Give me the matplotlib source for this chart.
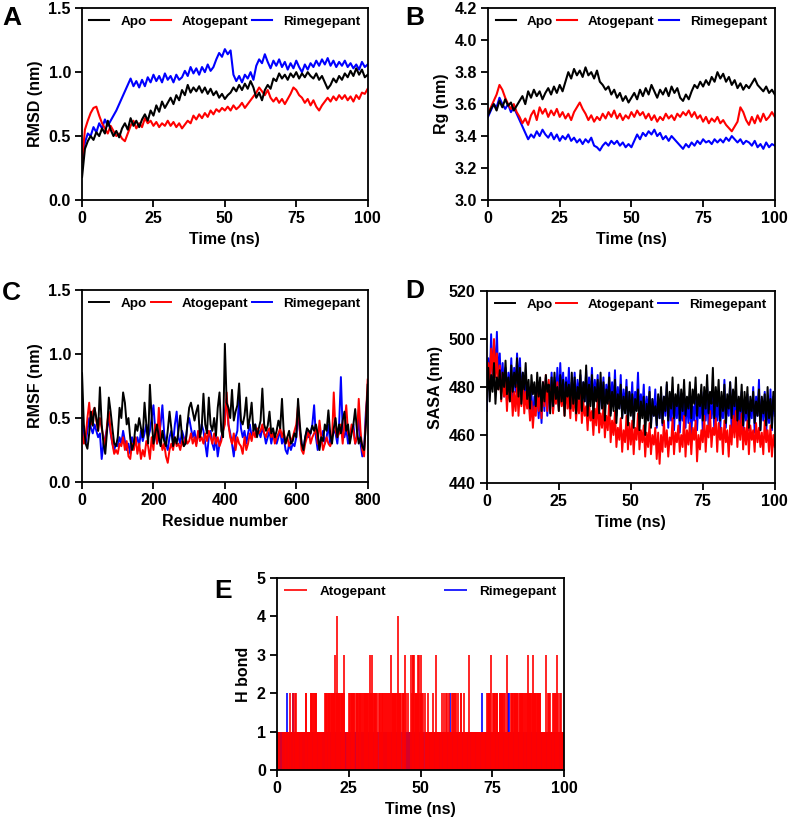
import numpy as np
import matplotlib
matplotlib.use("Agg")
import matplotlib.pyplot as plt

plt.rcParams['font.family'] = ['Liberation Sans', 'DejaVu Sans']
plt.rcParams['font.weight'] = 'bold'
plt.rcParams['axes.labelweight'] = 'bold'

# ---------------------------------------------------------------
# data

names = ["Apo", "Atogepant", "Rimegepant"]
colors = ["black", "red", "blue"]

# A - RMSD (nm), one value per ns
t_rmsd = np.arange(0, 101, 1)
rmsd_apo = [0.18, 0.40, 0.46, 0.50, 0.47, 0.53, 0.50, 0.56, 0.52, 0.62, 0.55,
            0.50, 0.54, 0.49, 0.56, 0.60, 0.55, 0.64, 0.58, 0.62, 0.57,
            0.63, 0.67, 0.62, 0.70, 0.66, 0.74, 0.69, 0.77, 0.72, 0.76,
            0.80, 0.75, 0.82, 0.78, 0.86, 0.82, 0.90, 0.84, 0.88, 0.85,
            0.89, 0.84, 0.88, 0.83, 0.87, 0.82, 0.85, 0.80, 0.83, 0.79,
            0.82, 0.84, 0.88, 0.85, 0.90, 0.86, 0.91, 0.87, 0.93, 0.88,
            0.80, 0.84, 0.78, 0.86, 0.90, 0.87, 0.95, 0.93, 0.99, 0.95,
            0.98, 0.94, 0.99, 0.96, 1.00, 0.95, 0.99, 0.96, 1.00, 0.97,
            0.95, 0.99, 0.94, 0.97, 0.92, 0.87, 0.90, 0.95, 0.92, 0.97,
            0.94, 0.99, 0.96, 1.01, 0.97, 1.03, 0.98, 1.02, 0.96, 0.98]
rmsd_ato = [0.30, 0.55, 0.62, 0.68, 0.72, 0.73, 0.66, 0.60, 0.56, 0.52, 0.58,
            0.54, 0.50, 0.52, 0.48, 0.46, 0.52, 0.58, 0.62, 0.56, 0.60,
            0.57, 0.64, 0.60, 0.62, 0.58, 0.61, 0.57, 0.60, 0.58, 0.62,
            0.58, 0.61, 0.57, 0.60, 0.56, 0.59, 0.62, 0.60, 0.66, 0.63,
            0.67, 0.64, 0.68, 0.65, 0.70, 0.67, 0.71, 0.69, 0.72, 0.70,
            0.73, 0.70, 0.74, 0.71, 0.73, 0.76, 0.72, 0.75, 0.78, 0.81,
            0.84, 0.88, 0.85, 0.82, 0.86, 0.80, 0.77, 0.80, 0.76, 0.79,
            0.75, 0.79, 0.83, 0.88, 0.86, 0.82, 0.80, 0.76, 0.79, 0.74,
            0.78, 0.73, 0.70, 0.74, 0.77, 0.80, 0.77, 0.81, 0.78, 0.82,
            0.79, 0.82, 0.78, 0.81, 0.77, 0.82, 0.79, 0.84, 0.83, 0.87]
rmsd_rime = [0.30, 0.45, 0.52, 0.50, 0.57, 0.53, 0.60, 0.56, 0.63, 0.58, 0.62,
             0.66, 0.70, 0.75, 0.80, 0.85, 0.90, 0.95, 0.89, 0.93, 0.88,
             0.94, 0.89, 0.96, 0.92, 0.98, 0.93, 0.97, 0.92, 0.99, 0.94,
             0.97, 0.92, 0.98, 0.94, 0.96, 1.01, 0.97, 1.04, 0.99, 1.03,
             0.98, 1.04, 1.00, 1.06, 1.01, 1.04, 1.10, 1.15, 1.12, 1.18,
             1.14, 1.17, 0.98, 0.93, 0.97, 0.92, 0.98, 0.95, 1.00, 0.94,
             1.05, 1.10, 1.07, 1.14, 1.08, 1.03, 1.09, 1.05, 1.10, 1.04,
             1.08, 1.02, 1.07, 1.03, 1.09, 1.04, 1.00, 1.06, 1.02, 1.07,
             1.04, 1.09, 1.05, 1.10, 1.06, 1.11, 1.05, 1.09, 1.04, 1.08,
             1.05, 1.09, 1.04, 1.07, 1.03, 1.06, 1.02, 1.08, 1.04, 1.06]

# B - Rg (nm), one value per ns
t_rg = np.arange(0, 101, 1)
rg_apo = [3.53, 3.57, 3.60, 3.56, 3.62, 3.58, 3.63, 3.59, 3.61, 3.56, 3.59,
          3.62, 3.65, 3.60, 3.68, 3.64, 3.69, 3.65, 3.68, 3.63, 3.67,
          3.70, 3.66, 3.71, 3.67, 3.72, 3.68, 3.74, 3.80, 3.76, 3.82,
          3.78, 3.81, 3.77, 3.83, 3.78, 3.80, 3.76, 3.81, 3.74, 3.72,
          3.69, 3.71, 3.66, 3.69, 3.64, 3.67, 3.62, 3.65, 3.61, 3.64,
          3.67, 3.63, 3.69, 3.65, 3.70, 3.66, 3.72, 3.68, 3.64, 3.69,
          3.66, 3.70, 3.65, 3.71, 3.67, 3.70, 3.64, 3.62, 3.66, 3.63,
          3.68, 3.72, 3.70, 3.74, 3.71, 3.75, 3.72, 3.77, 3.74, 3.80,
          3.76, 3.79, 3.74, 3.77, 3.72, 3.75, 3.70, 3.73, 3.69, 3.72,
          3.70, 3.73, 3.76, 3.72, 3.70, 3.68, 3.71, 3.67, 3.69, 3.66]
rg_ato = [3.54, 3.58, 3.62, 3.66, 3.72, 3.69, 3.64, 3.60, 3.57, 3.60, 3.55,
          3.52, 3.48, 3.51, 3.47, 3.53, 3.56, 3.50, 3.58, 3.54, 3.57,
          3.52, 3.56, 3.53, 3.57, 3.52, 3.55, 3.51, 3.54, 3.50, 3.55,
          3.58, 3.61, 3.57, 3.54, 3.50, 3.53, 3.49, 3.52, 3.50, 3.54,
          3.51, 3.55, 3.52, 3.56, 3.51, 3.54, 3.50, 3.53, 3.51, 3.55,
          3.52, 3.56, 3.53, 3.55, 3.51, 3.54, 3.50, 3.53, 3.49, 3.52,
          3.50, 3.54, 3.51, 3.53, 3.50, 3.54, 3.52, 3.55, 3.53, 3.56,
          3.52, 3.55, 3.51, 3.53, 3.49, 3.52, 3.48, 3.51, 3.49, 3.52,
          3.48, 3.50, 3.47, 3.45, 3.43, 3.46, 3.49, 3.58, 3.55, 3.50,
          3.47, 3.52, 3.48, 3.53, 3.49, 3.54, 3.50, 3.52, 3.55, 3.52]
rg_rime = [3.52, 3.56, 3.60, 3.58, 3.64, 3.60, 3.57, 3.60, 3.55, 3.58, 3.54,
           3.50, 3.46, 3.42, 3.38, 3.41, 3.39, 3.43, 3.40, 3.44, 3.41,
           3.39, 3.42, 3.38, 3.41, 3.37, 3.40, 3.38, 3.41, 3.37, 3.39,
           3.36, 3.38, 3.35, 3.38, 3.36, 3.39, 3.34, 3.33, 3.31, 3.34,
           3.36, 3.34, 3.37, 3.35, 3.37, 3.34, 3.36, 3.33, 3.35, 3.33,
           3.37, 3.41, 3.38, 3.42, 3.40, 3.43, 3.41, 3.44, 3.40, 3.42,
           3.38, 3.40, 3.37, 3.40, 3.38, 3.36, 3.34, 3.32, 3.35, 3.33,
           3.36, 3.34, 3.37, 3.35, 3.38, 3.36, 3.37, 3.35, 3.38, 3.36,
           3.38, 3.36, 3.39, 3.37, 3.40, 3.38, 3.36, 3.38, 3.35, 3.37,
           3.36, 3.34, 3.37, 3.33, 3.35, 3.32, 3.36, 3.33, 3.35, 3.34]

# C - RMSF (nm), every 5th residue
residue = np.arange(0, 801, 5)
rmsf_apo = [0.85, 0.45, 0.30, 0.26, 0.38, 0.55, 0.44, 0.58, 0.50, 0.40,
            0.74, 0.45, 0.30, 0.22, 0.40, 0.66, 0.55, 0.42, 0.30, 0.28,
            0.35, 0.58, 0.50, 0.70, 0.62, 0.45, 0.50, 0.34, 0.25, 0.30,
            0.45, 0.40, 0.50, 0.42, 0.35, 0.62, 0.45, 0.30, 0.76, 0.50,
            0.30, 0.38, 0.45, 0.35, 0.28, 0.40, 0.32, 0.28, 0.40, 0.55,
            0.42, 0.28, 0.35, 0.30, 0.40, 0.52, 0.35, 0.28, 0.30, 0.45,
            0.58, 0.62, 0.55, 0.48, 0.55, 0.60, 0.35, 0.42, 0.69, 0.45,
            0.38, 0.66, 0.45, 0.40, 0.50, 0.36, 0.58, 0.70, 0.40, 0.35,
            1.08, 0.62, 0.58, 0.50, 0.72, 0.48, 0.55, 0.60, 0.77, 0.48,
            0.45, 0.52, 0.66, 0.42, 0.50, 0.62, 0.40, 0.45, 0.35, 0.42,
            0.48, 0.73, 0.45, 0.40, 0.44, 0.55, 0.38, 0.42, 0.35, 0.40,
            0.48, 0.42, 0.65, 0.38, 0.30, 0.35, 0.40, 0.30, 0.32, 0.38,
            0.35, 0.65, 0.45, 0.30, 0.25, 0.35, 0.42, 0.40, 0.38, 0.44,
            0.40, 0.45, 0.38, 0.25, 0.35, 0.32, 0.45, 0.40, 0.56, 0.38,
            0.30, 0.42, 0.50, 0.35, 0.45, 0.38, 0.48, 0.55, 0.40, 0.45,
            0.30, 0.38, 0.45, 0.57, 0.40, 0.30, 0.35, 0.28, 0.25, 0.45,
            0.76]
rmsf_ato = [0.40, 0.30, 0.35, 0.50, 0.62, 0.45, 0.55, 0.58, 0.48, 0.40,
            0.50, 0.42, 0.35, 0.28, 0.45, 0.55, 0.40, 0.30, 0.22, 0.25,
            0.22, 0.30, 0.28, 0.35, 0.25, 0.32, 0.20, 0.18, 0.30, 0.25,
            0.35, 0.22, 0.30, 0.18, 0.25, 0.20, 0.32, 0.28, 0.18, 0.35,
            0.25, 0.45, 0.30, 0.58, 0.35, 0.25, 0.30, 0.20, 0.15, 0.25,
            0.30, 0.25, 0.35, 0.28, 0.30, 0.25, 0.32, 0.28, 0.35, 0.30,
            0.32, 0.38, 0.30, 0.35, 0.28, 0.40, 0.32, 0.35, 0.30, 0.38,
            0.32, 0.40, 0.35, 0.30, 0.38, 0.30, 0.35, 0.28, 0.32, 0.40,
            0.45, 0.70, 0.45, 0.35, 0.30, 0.38, 0.25, 0.35, 0.30, 0.28,
            0.22, 0.35, 0.25, 0.30, 0.38, 0.32, 0.40, 0.35, 0.42, 0.38,
            0.40, 0.45, 0.38, 0.35, 0.40, 0.42, 0.35, 0.38, 0.30, 0.35,
            0.38, 0.42, 0.35, 0.40, 0.30, 0.35, 0.28, 0.32, 0.35, 0.40,
            0.45, 0.60, 0.40, 0.25, 0.22, 0.30, 0.35, 0.40, 0.30, 0.35,
            0.38, 0.42, 0.30, 0.48, 0.35, 0.25, 0.30, 0.35, 0.30, 0.28,
            0.32, 0.70, 0.40, 0.35, 0.38, 0.45, 0.30, 0.45, 0.60, 0.38,
            0.35, 0.45, 0.40, 0.30, 0.35, 0.65, 0.40, 0.25, 0.20, 0.50,
            0.80]
rmsf_rime = [0.50, 0.35, 0.30, 0.40, 0.50, 0.42, 0.38, 0.45, 0.40, 0.35,
             0.38, 0.18, 0.30, 0.35, 0.42, 0.50, 0.38, 0.30, 0.25, 0.30,
             0.28, 0.35, 0.30, 0.40, 0.32, 0.25, 0.30, 0.22, 0.35, 0.30,
             0.30, 0.35, 0.28, 0.40, 0.32, 0.38, 0.45, 0.35, 0.40, 0.50,
             0.60, 0.40, 0.30, 0.35, 0.45, 0.60, 0.38, 0.30, 0.25, 0.35,
             0.40, 0.30, 0.45, 0.55, 0.35, 0.30, 0.40, 0.35, 0.30, 0.45,
             0.50, 0.42, 0.35, 0.40, 0.30, 0.38, 0.35, 0.45, 0.40, 0.30,
             0.20, 0.35, 0.40, 0.30, 0.25, 0.35, 0.20, 0.30, 0.35, 0.40,
             0.55, 0.65, 0.45, 0.38, 0.30, 0.20, 0.35, 0.40, 0.68, 0.42,
             0.35, 0.40, 0.30, 0.38, 0.45, 0.35, 0.40, 0.45, 0.38, 0.40,
             0.35, 0.42, 0.38, 0.30, 0.35, 0.40, 0.30, 0.38, 0.35, 0.30,
             0.35, 0.40, 0.30, 0.35, 0.25, 0.22, 0.30, 0.25, 0.30, 0.28,
             0.35, 0.55, 0.40, 0.30, 0.25, 0.35, 0.40, 0.35, 0.38, 0.45,
             0.60, 0.35, 0.25, 0.30, 0.35, 0.40, 0.30, 0.35, 0.45, 0.30,
             0.35, 0.40, 0.38, 0.30, 0.45, 0.82, 0.40, 0.35, 0.42, 0.30,
             0.35, 0.40, 0.45, 0.30, 0.35, 0.50, 0.30, 0.20, 0.25, 0.55,
             0.70]

# D - SASA, every 0.5 ns
t_sasa = np.arange(0, 100.5, 0.5)
sasa_apo = [476, 488, 474, 485, 478, 490, 473, 484, 479, 487, 475, 486, 480, 491, 477, 484, 474, 489, 478, 486,
            480, 492, 476, 488, 473, 486, 479, 490, 475, 483, 471, 485, 477, 482, 472, 486, 476, 484, 470, 482,
            474, 485, 478, 481, 469, 484, 472, 486, 475, 480, 470, 485, 474, 483, 468, 482, 476, 481, 471, 486,
            473, 484, 469, 480, 475, 487, 470, 482, 474, 489, 468, 481, 472, 485, 467, 480, 474, 483, 469, 486,
            471, 482, 466, 479, 473, 484, 468, 478, 470, 483, 465, 477, 471, 481, 467, 476, 469, 480, 464, 478,
            468, 477, 463, 475, 470, 479, 462, 474, 467, 476, 460, 473, 466, 478, 463, 475, 468, 472, 464, 477,
            467, 480, 465, 476, 470, 482, 466, 478, 471, 484, 467, 477, 472, 481, 466, 479, 470, 483, 468, 476,
            471, 482, 467, 479, 473, 484, 468, 477, 472, 481, 466, 480, 471, 485, 469, 478, 473, 488, 467, 480,
            472, 483, 466, 478, 470, 481, 465, 477, 471, 482, 467, 479, 472, 484, 466, 476, 470, 481, 464, 478,
            469, 480, 463, 476, 470, 478, 465, 474, 468, 479, 462, 476, 469, 477, 464, 480, 467, 475, 463, 478,
            470]
sasa_ato = [478, 490, 482, 496, 485, 500, 484, 494, 479, 489, 474, 486, 476, 483, 470, 482, 474, 480, 468, 478,
            470, 481, 468, 479, 472, 484, 469, 478, 471, 476, 466, 474, 463, 472, 468, 478, 470, 480, 467, 482,
            472, 485, 470, 483, 474, 480, 469, 478, 473, 482, 470, 479, 472, 477, 468, 481, 471, 476, 467, 479,
            470, 478, 466, 475, 469, 480, 465, 474, 468, 472, 462, 473, 466, 470, 460, 471, 464, 476, 461, 469,
            463, 472, 459, 468, 462, 474, 457, 466, 460, 470, 455, 463, 458, 467, 453, 462, 457, 468, 454, 465,
            456, 466, 452, 463, 458, 469, 454, 462, 457, 464, 451, 461, 455, 465, 452, 460, 456, 463, 450, 461,
            448, 460, 453, 466, 455, 462, 451, 459, 456, 467, 452, 461, 457, 464, 453, 460, 455, 468, 451, 462,
            456, 465, 452, 463, 458, 466, 449, 460, 454, 462, 457, 468, 453, 464, 459, 470, 455, 463, 460, 467,
            453, 465, 458, 463, 452, 466, 457, 462, 451, 464, 456, 468, 459, 470, 455, 466, 458, 469, 454, 463,
            456, 466, 452, 464, 458, 462, 453, 465, 457, 463, 455, 461, 452, 466, 457, 462, 453, 464, 451, 460,
            455]
sasa_rime = [470, 492, 480, 502, 484, 498, 486, 503, 482, 494, 478, 490, 476, 488, 474, 486, 478, 492, 475, 488,
             478, 494, 480, 492, 476, 486, 474, 484, 472, 480, 468, 478, 466, 476, 470, 480, 467, 478, 465, 482,
             470, 484, 468, 480, 472, 486, 470, 484, 474, 488, 472, 490, 476, 486, 473, 484, 475, 488, 471, 482,
             474, 486, 472, 483, 476, 485, 470, 482, 474, 487, 471, 484, 475, 488, 472, 483, 476, 485, 470, 482,
             473, 484, 470, 481, 474, 486, 469, 482, 472, 487, 468, 480, 471, 485, 467, 479, 470, 483, 466, 478,
             470, 482, 466, 478, 472, 486, 468, 477, 470, 481, 465, 476, 469, 480, 464, 475, 468, 479, 463, 476,
             467, 478, 464, 476, 468, 481, 463, 475, 466, 479, 462, 474, 467, 478, 461, 473, 466, 477, 463, 475,
             465, 476, 460, 472, 466, 479, 462, 474, 467, 478, 461, 475, 466, 480, 463, 473, 467, 477, 462, 476,
             466, 478, 461, 474, 467, 483, 463, 475, 468, 482, 462, 476, 466, 479, 460, 474, 465, 478, 461, 475,
             466, 477, 462, 474, 467, 480, 461, 476, 468, 483, 462, 475, 466, 478, 460, 474, 465, 479, 462, 476,
             468]

# E - number of H bonds, every 0.25 ns (one digit per frame)
t_hb = np.arange(0, 100.25, 0.25)
hb_ato_str = ("01111001011111011121" "10121212111111111101" "22111112222122221111"
              "11111012222222222222" "23224222222222310111" "12222222202222222220"
              "22222222223223222221" "20222122222022122213" "22222222242222022230"
              "20020103233322222332" "32221021112111111121" "13111111112121121212"
              "11112212212121112211" "12111111311111111111" "11111111111112222231"
              "12222222112222222211" "31111122222222222122" "22222212232222222322"
              "22222222111111131212" "12112122123121221111" "1")
hb_rime_str = ("01111111111111211111" "11211111111111111101" "11111111111111111111"
               "11111011111111111111" "11111111111111111111" "11111111111111111111"
               "11111111111111111111" "10111111111011111111" "11111111111111011110"
               "11101011111111111111" "11111011111111111111" "11111111111111111111"
               "12111111111111111111" "11111111111111111111" "11111211111111111111"
               "11111111111111111111" "11221111111111111111" "11111111111111111111"
               "11111111111111111111" "11111111111111111111" "1")
hb_ato = [int(c) for c in hb_ato_str]
hb_rime = [int(c) for c in hb_rime_str]

# ---------------------------------------------------------------
# figure

fig = plt.figure(figsize=(7.89, 8.23), dpi=100)

ax_a = fig.add_axes([0.104, 0.757, 0.362, 0.233])
ax_b = fig.add_axes([0.6185, 0.757, 0.3635, 0.233])
ax_c = fig.add_axes([0.104, 0.4143, 0.362, 0.2333])
ax_d = fig.add_axes([0.617, 0.4131, 0.365, 0.2333])
ax_e = fig.add_axes([0.351, 0.0644, 0.364, 0.2333])

leg_font = {'weight': 'bold', 'size': 9.7}


def style(ax):
    for s in ax.spines.values():
        s.set_linewidth(1.3)
    ax.tick_params(direction='out', length=5, width=1.3, labelsize=11.5, pad=3)
    for lab in ax.get_xticklabels() + ax.get_yticklabels():
        lab.set_fontweight('bold')


def three_lines(ax, x, series, lw):
    for i, y in enumerate(series):
        ax.plot(x, y, color=colors[i], lw=lw, label=names[i], zorder=3 - i)
    ax.legend(loc='upper center', ncol=3, frameon=False,
              handlelength=1.5, handletextpad=0.8, columnspacing=0.3,
              borderaxespad=0.15, prop=leg_font)


# A
three_lines(ax_a, t_rmsd, [rmsd_apo, rmsd_ato, rmsd_rime], 1.5)
ax_a.set_xlim(0, 100)
ax_a.set_ylim(0, 1.5)
ax_a.set_xticks([0, 25, 50, 75, 100])
ax_a.set_yticks([0, 0.5, 1.0, 1.5])
ax_a.set_yticklabels(["0.0", "0.5", "1.0", "1.5"])
ax_a.set_xlabel("Time (ns)", fontsize=11.5)
ax_a.set_ylabel("RMSD (nm)", fontsize=11.5)

# B
three_lines(ax_b, t_rg, [rg_apo, rg_ato, rg_rime], 1.5)
ax_b.set_xlim(0, 100)
ax_b.set_ylim(3.0, 4.2)
ax_b.set_xticks([0, 25, 50, 75, 100])
ax_b.set_yticks([3.0, 3.2, 3.4, 3.6, 3.8, 4.0, 4.2])
ax_b.set_yticklabels(["3.0", "3.2", "3.4", "3.6", "3.8", "4.0", "4.2"])
ax_b.set_xlabel("Time (ns)", fontsize=11.5)
ax_b.set_ylabel("Rg (nm)", fontsize=11.5)

# C
three_lines(ax_c, residue, [rmsf_apo, rmsf_ato, rmsf_rime], 1.4)
ax_c.set_xlim(0, 800)
ax_c.set_ylim(0, 1.5)
ax_c.set_xticks([0, 200, 400, 600, 800])
ax_c.set_yticks([0, 0.5, 1.0, 1.5])
ax_c.set_yticklabels(["0.0", "0.5", "1.0", "1.5"])
ax_c.set_xlabel("Residue number", fontsize=11.5)
ax_c.set_ylabel("RMSF (nm)", fontsize=11.5)

# D
three_lines(ax_d, t_sasa, [sasa_apo, sasa_ato, sasa_rime], 1.4)
ax_d.set_xlim(0, 100)
ax_d.set_ylim(440, 520)
ax_d.set_xticks([0, 25, 50, 75, 100])
ax_d.set_yticks([440, 460, 480, 500, 520])
ax_d.set_xlabel("Time (ns)", fontsize=11.5)
ax_d.set_ylabel("SASA (nm)", fontsize=11.5)

# E
ax_e.vlines(t_hb, 0, hb_rime, colors="blue", lw=1.2, label="Rimegepant", zorder=1)
ax_e.vlines(t_hb, 0, hb_ato, colors="red", lw=1.2, label="Atogepant", zorder=2)
h, l = ax_e.get_legend_handles_labels()
ax_e.legend(h[::-1], l[::-1], loc='upper left', bbox_to_anchor=(0, 1, 1, 0),
            mode='expand', ncol=2, frameon=False, handlelength=1.7,
            handletextpad=0.9, borderaxespad=0.15, prop=leg_font)
ax_e.set_xlim(0, 100)
ax_e.set_ylim(0, 5)
ax_e.set_xticks([0, 25, 50, 75, 100])
ax_e.set_yticks([0, 1, 2, 3, 4, 5])
ax_e.set_xlabel("Time (ns)", fontsize=11.5)
ax_e.set_ylabel("H bond", fontsize=11.5)

for ax in [ax_a, ax_b, ax_c, ax_d, ax_e]:
    style(ax)

# panel letters
for x, y, s in [(0.003, 0.993, "A"), (0.513, 0.993, "B"),
                (0.003, 0.658, "C"), (0.513, 0.661, "D"),
                (0.272, 0.296, "E")]:
    fig.text(x, y, s, fontsize=19, fontweight='bold', va='top', ha='left')

fig.savefig("out.png", dpi=100)
